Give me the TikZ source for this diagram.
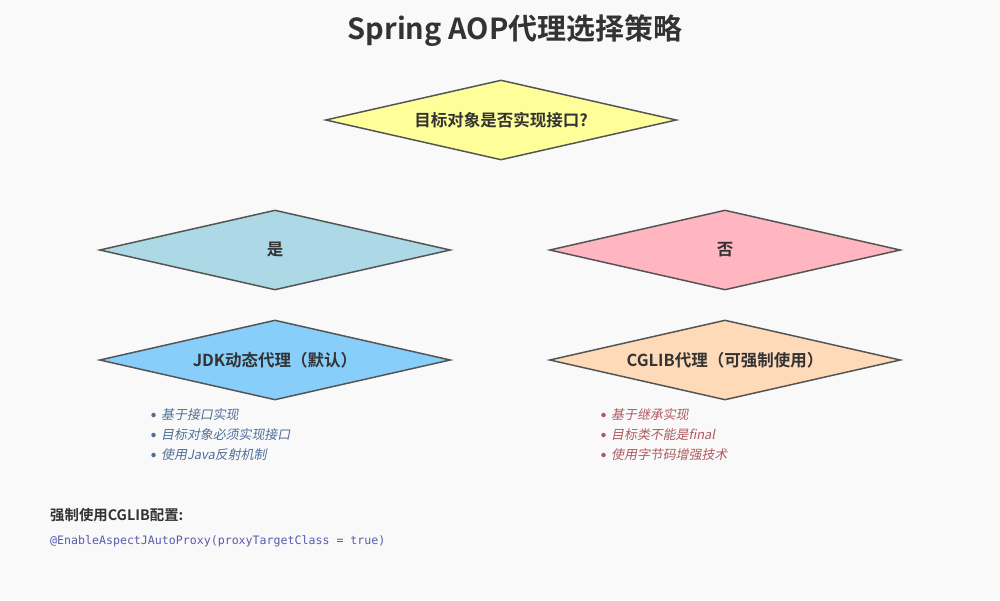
\documentclass[tikz,border=0pt]{standalone}
\usepackage{fontspec}
\usetikzlibrary{shapes.geometric}
\setmainfont{Noto Sans CJK SC}
\newfontfamily\cjkb{Noto Sans CJK SC Bold}
\newfontfamily\cjkit[FakeSlant=0.2]{Noto Sans CJK SC}
\newfontfamily\codefont{DejaVu Sans Mono}
\definecolor{bg}{HTML}{F9F9F9}
\definecolor{txt}{HTML}{333333}
\definecolor{edge}{HTML}{555555}
\definecolor{cyel}{HTML}{FFFF99}
\definecolor{cblue}{HTML}{ADD8E6}
\definecolor{cpink}{HTML}{FFB6C1}
\definecolor{csky}{HTML}{87CEFA}
\definecolor{cpeach}{HTML}{FFDAB9}
\definecolor{lnote}{HTML}{4F6F9A}
\definecolor{rnote}{HTML}{B05A60}
\definecolor{code}{HTML}{5A5AB0}
\begin{document}
\begin{tikzpicture}[x=1pt,y=-1pt,
  dia/.style={diamond,draw=edge,line width=1.5pt,minimum width=351pt,minimum height=80pt,aspect=4.4,inner sep=0pt,font=\cjkb\fontsize{16.5}{19}\selectfont,text=txt},
  note/.style={anchor=west,inner sep=0pt,font=\cjkit\fontsize{12.9}{15}\selectfont},
  dot/.style={circle,inner sep=0pt,minimum size=4.5pt}]
\fill[bg] (0,0) rectangle (1000,600);
\useasboundingbox (0,0) rectangle (1000,600);
\node[font=\cjkb\fontsize{29}{34}\selectfont,text=txt] (title) at (515,31) {Spring AOP代理选择策略};
\node[dia,fill=cyel] (q) at (501,120) {目标对象是否实现接口?};
\node[dia,fill=cblue] (yes) at (275,250) {是};
\node[dia,fill=cpink] (no) at (725,250) {否};
\node[dia,fill=csky] (jdk) at (275,360) {JDK动态代理（默认）};
\node[dia,fill=cpeach] (cglib) at (725,360) {CGLIB代理（可强制使用）};
\foreach \i/\t in {0/基于接口实现,1/目标对象必须实现接口,2/使用Java反射机制}{
  \node[dot,fill=lnote] (ld\i) at (153.5,415+20*\i) {};
  \node[note,text=lnote] (lt\i) at (161,415+20*\i) {\t};
}
\foreach \i/\t in {0/基于继承实现,1/目标类不能是final,2/使用字节码增强技术}{
  \node[dot,fill=rnote] (rd\i) at (603.5,415+20*\i) {};
  \node[note,text=rnote] (rt\i) at (611,415+20*\i) {\t};
}
\node[anchor=west,inner sep=0pt,font=\cjkb\fontsize{14.4}{17}\selectfont,text=txt] (cfg) at (50,515) {强制使用CGLIB配置:};
\node[anchor=west,inner sep=0pt,font=\codefont\fontsize{11.6}{13}\selectfont,text=code] (ann) at (50,541) {@EnableAspectJAutoProxy(proxyTargetClass = true)};
\end{tikzpicture}
\end{document}
